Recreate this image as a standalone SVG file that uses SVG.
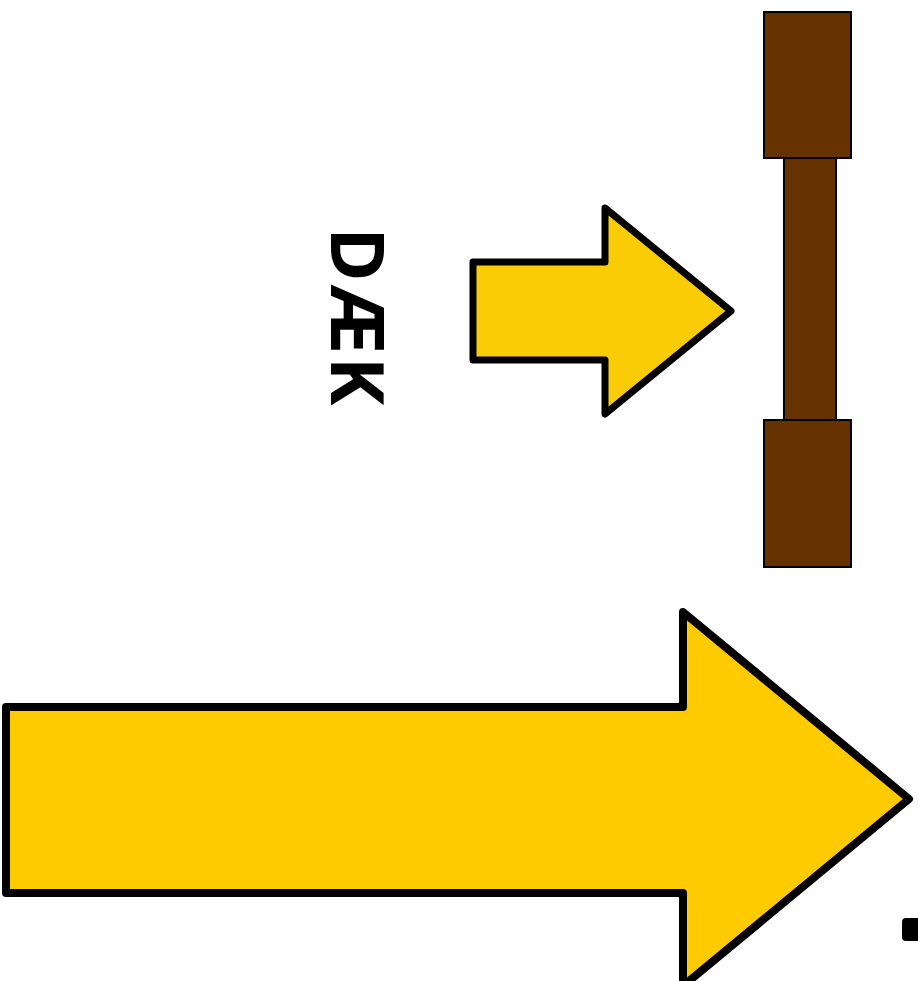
<svg xmlns="http://www.w3.org/2000/svg" width="918" height="981" viewBox="0 0 918 981">
<style>
.arrow{stroke:#000;stroke-linejoin:round}
.wood{fill:#663300;stroke:#000;stroke-width:2}
.lbl{font-family:"Open Sans","Liberation Sans",sans-serif;font-weight:bold;font-size:73px;letter-spacing:3px;fill:#000}
</style>
<rect width="918" height="981" fill="#fff"/>
<g id="beam">
<rect class="wood" x="784" y="157" width="52" height="264"/>
<rect class="wood" x="764" y="12" width="87" height="146"/>
<rect class="wood" x="764" y="420" width="87" height="147"/>
</g>
<g id="small-arrow">
<path class="arrow" fill="#F9CC05" stroke-width="7" d="M473,262 H605 V208 L731,311 L605,414 V360 H473 Z"/>
</g>
<g id="label">
<text class="lbl" text-anchor="middle" transform="translate(331,318) rotate(90)">DÆK</text>
</g>
<g id="big-arrow">
<path class="arrow" fill="#FECB00" stroke-width="8" d="M6,707 H683 V612 L909,799 L683,986 V893 H6 Z"/>
</g>
<g id="mark">
<rect x="902" y="918" width="24" height="23" rx="4" fill="#000"/>
</g>
<g id="connectors"></g>
</svg>
